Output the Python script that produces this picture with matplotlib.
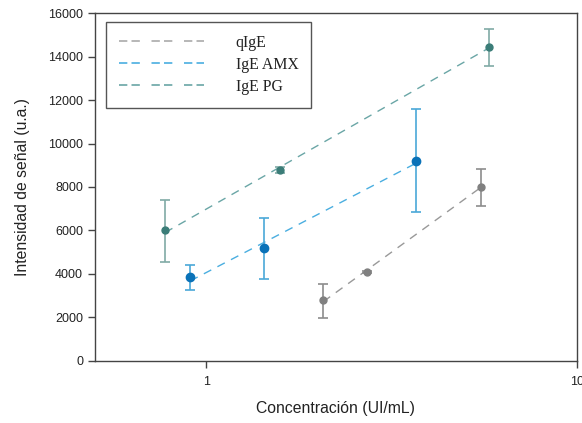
import numpy as np
import matplotlib
matplotlib.use("Agg")
import matplotlib.pyplot as plt
from matplotlib.lines import Line2D

# Data
q_x = [2.07, 2.72, 5.5]
q_y = [2800, 4090, 8000]
q_err_lo = [820, 60, 870]
q_err_hi = [740, 60, 830]

amx_x = [0.905, 1.435, 3.69]
amx_y = [3860, 5190, 9190]
amx_err_lo = [600, 1420, 2340]
amx_err_hi = [550, 1380, 2400]

pg_x = [0.774, 1.585, 5.78]
pg_y = [6000, 8780, 14440]
pg_err_lo = [1450, 120, 880]
pg_err_hi = [1400, 120, 810]

series_labels = ["qIgE", "IgE AMX", "IgE PG"]
yticks = [0, 2000, 4000, 6000, 8000, 10000, 12000, 14000, 16000]

fig = plt.figure(figsize=(5.82, 4.23), dpi=100)
ax = fig.add_axes([0.163, 0.147, 0.828, 0.822])
ax.set_xscale("log")
ax.set_xlim(0.5, 10)
ax.set_ylim(0, 16000)

styles = [
    (q_x, q_y, q_err_lo, q_err_hi, "#999999", "#8c8c8c", "#808080", 5),
    (amx_x, amx_y, amx_err_lo, amx_err_hi, "#4aaee0", "#4aa8d8", "#0a72b8", 6),
    (pg_x, pg_y, pg_err_lo, pg_err_hi, "#6aa6a6", "#80aaa6", "#3b7d78", 5),
]

for xs, ys, elo, ehi, lc, ec, mc, ms in styles:
    xs = np.array(xs); ys = np.array(ys)
    lx = np.log10(xs)
    b, a = np.polyfit(lx, ys, 1)
    fx = np.array([lx.min(), lx.max()])
    ax.plot(10 ** fx, a + b * fx, color=lc, lw=1.0, dashes=(6, 5), zorder=2)
    ax.errorbar(xs, ys, yerr=[elo, ehi], fmt="none", ecolor=ec, elinewidth=1.2,
                capsize=3.5, capthick=1.2, zorder=3)
    ax.plot(xs, ys, "o", color=mc, ms=ms, mec=mc, zorder=4)

ax.set_yticks(yticks)
ax.set_yticklabels([str(t) for t in yticks])
ax.set_xticks([1, 10])
ax.set_xticklabels(["1", "10"])
ax.xaxis.set_minor_locator(matplotlib.ticker.NullLocator())
for s in ax.spines.values():
    s.set_color("#444444")
    s.set_linewidth(1.0)
ax.tick_params(axis="both", direction="out", length=5, width=1, color="#444444",
               labelsize=9, labelcolor="#222222")
ax.tick_params(axis="x", pad=6)
for lab in ax.get_xticklabels() + ax.get_yticklabels():
    lab.set_fontfamily("Liberation Sans")

ax.set_ylabel("Intensidad de señal (u.a.)", fontsize=11.3, family="Liberation Sans",
              color="#222222", labelpad=13)
ax.set_xlabel("Concentración (UI/mL)", fontsize=11.3, family="Liberation Sans",
              color="#222222", labelpad=9)

handles = [
    Line2D([], [], color="#aaaaaa", lw=1.2, dashes=(5, 2.5, 5, 7)),
    Line2D([], [], color="#4aaee0", lw=1.2, dashes=(5, 2.5, 5, 7)),
    Line2D([], [], color="#6aa6a6", lw=1.2, dashes=(5, 2.5, 5, 7)),
]
leg = ax.legend(handles, series_labels, loc="upper left", bbox_to_anchor=(0.023, 0.974),
                prop={"family": "Liberation Serif", "size": 11.4}, handlelength=5.4,
                handletextpad=2.0, borderpad=0.8, labelspacing=0.38, fancybox=False,
                framealpha=1, edgecolor="#555555", borderaxespad=0)
leg.get_frame().set_linewidth(1.0)
for t in leg.get_texts():
    t.set_color("#222222")

fig.savefig("out.png", dpi=100)
